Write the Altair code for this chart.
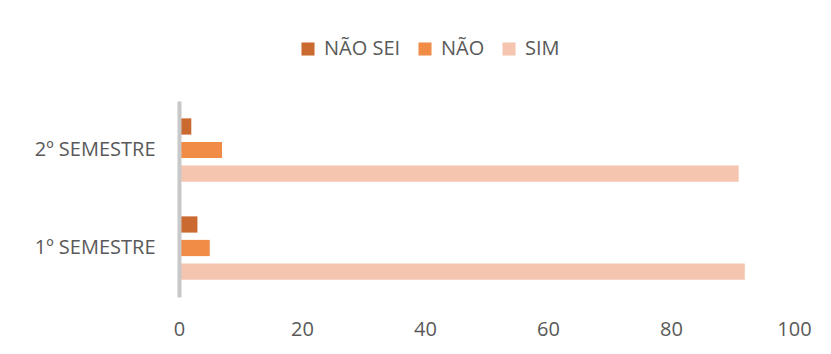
import altair as alt
import pandas as pd

semestres = ["2º SEMESTRE", "1º SEMESTRE"]
respostas = ["NÃO SEI", "NÃO", "SIM"]
nao_sei = [2, 3]
nao = [7, 5]
sim = [91, 92]
cores = ["#CB6A30", "#F08C46", "#F6C5B0"]
ticks = [0, 20, 40, 60, 80, 100]

rows = []
for i, s in enumerate(semestres):
    for r, vals in zip(respostas, [nao_sei, nao, sim]):
        rows.append({"semestre": s, "resposta": r, "valor": vals[i]})
df = pd.DataFrame(rows)

FONT = "Open Sans"
TXT = "#595959"

chart = alt.Chart(df).mark_bar().encode(
    y=alt.Y("semestre:N", sort=semestres, title=None,
            scale=alt.Scale(paddingInner=0.28, paddingOuter=0.14),
            axis=alt.Axis(domain=True, domainColor="#C8C8C8", domainWidth=4,
                          ticks=False, grid=False, labelFont=FONT, labelFontSize=20,
                          labelColor=TXT, labelPadding=24, zindex=1)),
    yOffset=alt.YOffset("resposta:N", sort=respostas,
                        scale=alt.Scale(paddingInner=0.31, paddingOuter=0.155)),
    x=alt.X("valor:Q", title=None,
            scale=alt.Scale(domain=[0, 100], nice=False),
            axis=alt.Axis(values=ticks, domain=False, ticks=False, grid=False,
                          labelFlush=False, labelBound=False,
                          labelFont=FONT, labelFontSize=20, labelColor=TXT,
                          labelPadding=22)),
    color=alt.Color("resposta:N", sort=respostas,
                    scale=alt.Scale(domain=respostas, range=cores),
                    legend=alt.Legend(title=None, orient="none", direction="horizontal",
                                      legendX=119, legendY=-62,
                                      symbolType="square", symbolSize=170,
                                      symbolStrokeWidth=0, labelFont=FONT,
                                      labelFontSize=20, labelColor=TXT,
                                      labelOffset=6, columnPadding=14)),
).properties(
    width=615, height=196,
    background="white",
    autosize=alt.AutoSizeParams(type="none"),
    padding={"left": 171, "top": 93, "right": 29, "bottom": 49},
).configure_view(strokeWidth=0)

chart.save("out.html", embed_options={"renderer": "svg", "actions": False})
